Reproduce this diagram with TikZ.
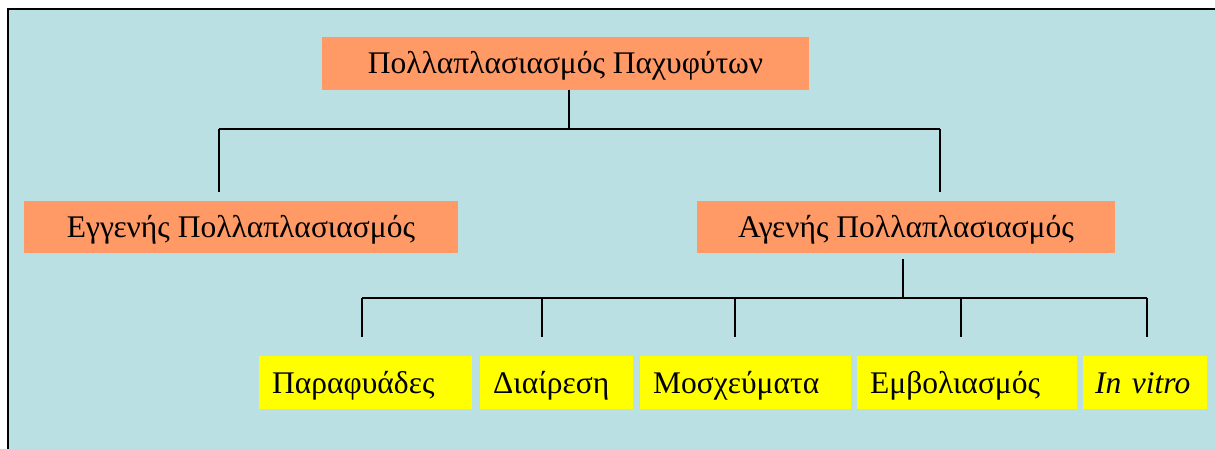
\documentclass[tikz,border=0pt]{standalone}
\usepackage{fontspec}
\setmainfont{Liberation Serif}
\definecolor{bgcyan}{HTML}{BBE0E3}
\definecolor{boxorange}{HTML}{FF9966}
\definecolor{boxyellow}{HTML}{FFFF00}
\begin{document}
\begin{tikzpicture}[x=1pt,y=-1pt,
  txt/.style={text height=30pt, text depth=9pt, font=\fontsize{31.5}{36}\selectfont},
  obox/.style={txt, fill=boxorange, draw=none, inner sep=0pt},
  ybox/.style={txt, fill=boxyellow, draw=none, inner sep=0pt, inner xsep=13pt, align=left},
  conn/.style={line width=1.6pt, black}]
\useasboundingbox (0,0) rectangle (1215,449);
\fill[white] (0,0) rectangle (1215,449);
\begin{scope}
\clip (0,0) rectangle (1215,449);
\filldraw[fill=bgcyan, draw=black, line width=2pt] (8,9) rectangle (1230,470);
\end{scope}
% orange boxes
\node[obox, minimum width=487pt, minimum height=53pt] (top) at (565.5,63.5) {Πολλαπλασιασμός Παχυφύτων};
\node[obox, minimum width=434pt, minimum height=52pt] (eg) at (241,227) {Εγγενής Πολλαπλασιασμός};
\node[obox, minimum width=418pt, minimum height=52pt] (ag) at (906,227) {Αγενής Πολλαπλασιασμός};
% yellow boxes
\node[ybox, text width=187pt, minimum height=53pt, anchor=west] (p1) at (259,382.5) {Παραφυάδες};
\node[ybox, text width=127pt, minimum height=53pt, anchor=west] (p2) at (480,382.5) {Διαίρεση};
\node[ybox, text width=185pt, minimum height=53pt, anchor=west] (p3) at (640,382.5) {Μοσχεύματα};
\node[ybox, text width=194pt, minimum height=53pt, anchor=west] (p4) at (857,382.5) {Εμβολιασμός};
\node[ybox, text width=100pt, minimum height=53pt, anchor=west, inner xsep=12pt] (p5) at (1083,382.5) {\textit{In vitro}};
% connector coordinates
\coordinate (t0) at (569,90);
\coordinate (tj) at (569,129);
\coordinate (tl) at (219,129);
\coordinate (tr) at (940,129);
\coordinate (egt) at (219,192);
\coordinate (agt) at (940,192);
\draw[conn] (t0) -- (tj);
\draw[conn] (tl) -- (tr);
\draw[conn] (tl) -- (egt);
\draw[conn] (tr) -- (agt);
\coordinate (a0) at (903,259);
\coordinate (aj) at (903,298);
\coordinate (b1) at (362,298);
\coordinate (b2) at (542,298);
\coordinate (b3) at (735,298);
\coordinate (b4) at (961,298);
\coordinate (b5) at (1147,298);
\coordinate (e1) at (362,337);
\coordinate (e2) at (542,337);
\coordinate (e3) at (735,337);
\coordinate (e4) at (961,337);
\coordinate (e5) at (1147,337);
\draw[conn] (a0) -- (aj);
\draw[conn] (b1) -- (b5);
\draw[conn] (b1) -- (e1);
\draw[conn] (b2) -- (e2);
\draw[conn] (b3) -- (e3);
\draw[conn] (b4) -- (e4);
\draw[conn] (b5) -- (e5);
\end{tikzpicture}
\end{document}
